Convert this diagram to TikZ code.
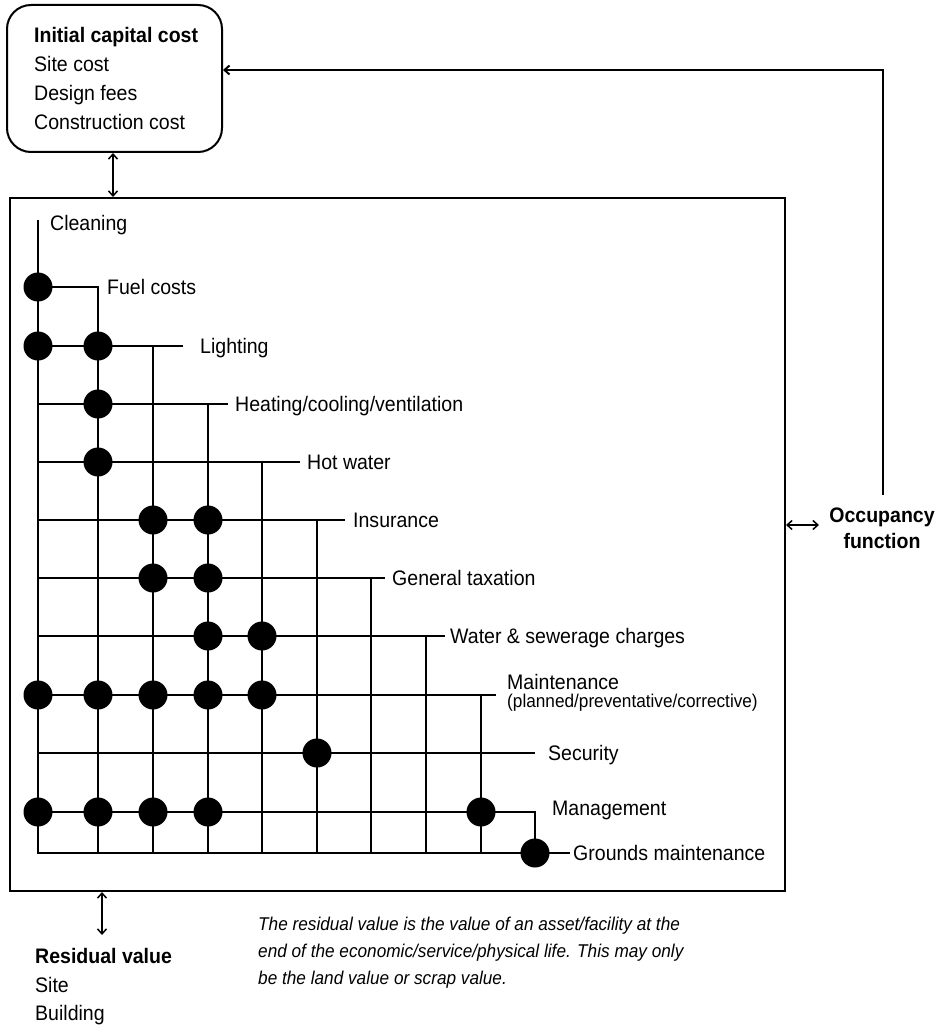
\documentclass[tikz,border=0pt]{standalone}
\usepackage{fontspec}
\setmainfont{Liberation Sans}[FakeStretch=0.93]
\usetikzlibrary{arrows.meta}
\begin{document}
\begin{tikzpicture}[x=1pt,y=-1pt,
  grid/.style={line width=2pt},
  frame/.style={draw,line width=2pt,inner sep=0pt},
  dot/.style={circle,fill=black,inner sep=0pt,minimum size=29pt},
  lbl/.style={anchor=base west,inner sep=0pt,font=\fontsize{21}{25}\selectfont},
  sublbl/.style={anchor=base west,inner sep=0pt,font=\fontsize{18.5}{22}\selectfont},
  note/.style={anchor=base west,inner sep=0pt,font=\fontsize{18.5}{22}\selectfont\itshape},
  heading/.style={anchor=base west,inner sep=0pt,font=\fontsize{21}{25}\selectfont\bfseries},
  boldc/.style={anchor=base,inner sep=0pt,font=\fontsize{21}{25}\selectfont\bfseries},
  tip/.tip={Straight Barb[length=5pt,width=9pt]},
  twoway/.style={line width=1.5pt,tip-tip},
  oneway/.style={line width=2pt,-tip},
]
\useasboundingbox (0,0) rectangle (946,1027);

% capital cost box
\node[frame,rounded corners=24pt,minimum width=215pt,minimum height=147pt] (icc) at (114.5,78.5) {};
\node[heading] (icc0) at (34,43) {Initial capital cost};
\node[lbl] (icc1) at (34,72) {Site cost};
\node[lbl] (icc2) at (34,101) {Design fees};
\node[lbl] (icc3) at (34,130) {Construction cost};

% running cost frame
\node[frame,minimum width=775pt,minimum height=693pt] (lcc) at (397.5,544.5) {};

% column and row positions of the cost matrix
\foreach \n/\x in {A/38,B/98,C/153,D/208,E/262,F/317,G/371,H/426,I/481,J/535}
  \coordinate (c\n) at (\x,0);
\foreach \n/\y in {cl/220,fu/287,li/346,he/404,hw/462,in/520,gt/578,ws/636,ma/695,se/753,mg/812,gr/853}
  \coordinate (r\n) at (0,\y);

% line ends next to the labels
\coordinate (eli) at (183,346);
\coordinate (ehe) at (228,404);
\coordinate (ehw) at (300,462);
\coordinate (ein) at (345,520);
\coordinate (egt) at (385,578);
\coordinate (ews) at (445,636);
\coordinate (ema) at (496,695);
\coordinate (ese) at (535,753);
\coordinate (egr) at (570,853);

% matrix lines
\draw[grid] (cA |- rcl) -- (cA |- rgr) -- (egr);
\draw[grid] (cA |- rfu) -| (cB |- rgr);
\draw[grid] (cA |- rli) -- (eli);  \draw[grid] (cC |- rli) -- (cC |- rgr);
\draw[grid] (cA |- rhe) -- (ehe);  \draw[grid] (cD |- rhe) -- (cD |- rgr);
\draw[grid] (cA |- rhw) -- (ehw);  \draw[grid] (cE |- rhw) -- (cE |- rgr);
\draw[grid] (cA |- rin) -- (ein);  \draw[grid] (cF |- rin) -- (cF |- rgr);
\draw[grid] (cA |- rgt) -- (egt);  \draw[grid] (cG |- rgt) -- (cG |- rgr);
\draw[grid] (cA |- rws) -- (ews);  \draw[grid] (cH |- rws) -- (cH |- rgr);
\draw[grid] (cA |- rma) -- (ema);  \draw[grid] (cI |- rma) -- (cI |- rgr);
\draw[grid] (cA |- rse) -- (ese);
\draw[grid] (cA |- rmg) -| (cJ |- rgr);

% interactions
\foreach \c/\r in {A/fu, A/li,B/li, B/he, B/hw, C/in,D/in, C/gt,D/gt, D/ws,E/ws,
                   A/ma,B/ma,C/ma,D/ma,E/ma, F/se, A/mg,B/mg,C/mg,D/mg,I/mg, J/gr}
  \node[dot] (d-\c-\r) at (c\c |- r\r) {};

% cost item labels
\node[lbl] (lcl) at (50,230) {Cleaning};
\node[lbl] (lfu) at (107,294) {Fuel costs};
\node[lbl] (lli) at (200,353) {Lighting};
\node[lbl] (lhe) at (235,411) {Heating/cooling/ventilation};
\node[lbl] (lhw) at (307,469) {Hot water};
\node[lbl] (lin) at (353,527) {Insurance};
\node[lbl] (lgt) at (392,585) {General taxation};
\node[lbl] (lws) at (450,643) {Water \& sewerage charges};
\node[lbl] (lma) at (507,689) {Maintenance};
\node[sublbl] (lma2) at (507,707) {(planned/preventative/corrective)};
\node[lbl] (lse) at (548,760) {Security};
\node[lbl] (lmg) at (552,815) {Management};
\node[lbl] (lgr) at (573,860) {Grounds maintenance};

% occupancy function
\node[boldc] (occ1) at (882,522) {Occupancy};
\node[boldc] (occ2) at (882,548) {function};
\coordinate (occtop) at (883,495);
\coordinate (topline) at (0,70);
\draw[oneway] (occtop) |- (icc.east |- topline);
\coordinate (oa) at (819,525);
\draw[twoway] (lcc.east |- oa) -- (oa);

% link between capital cost and running costs
\coordinate (ic) at (113,0);
\draw[twoway] (icc.south -| ic) -- (lcc.north -| ic);

% residual value
\coordinate (rv) at (102,935);
\draw[twoway] (lcc.south -| rv) -- (rv);
\node[heading] (rv0) at (35,963) {Residual value};
\node[lbl] (rv1) at (35,992) {Site};
\node[lbl] (rv2) at (35,1020) {Building};

\node[note] (n1) at (258,930) {The residual value is the value of an asset/facility at the};
\node[note] (n2) at (258,957) {end of the economic/service/physical life. This may only};
\node[note] (n3) at (258,984) {be the land value or scrap value.};
\end{tikzpicture}
\end{document}
